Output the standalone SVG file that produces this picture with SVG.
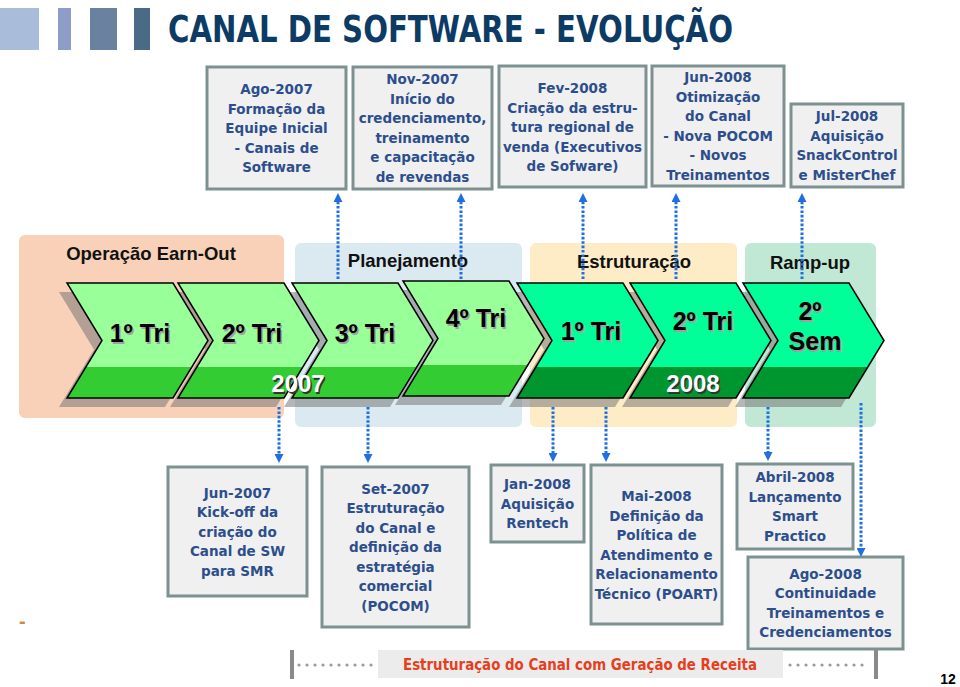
<svg xmlns="http://www.w3.org/2000/svg" xmlns:xlink="http://www.w3.org/1999/xlink" width="960" height="687" viewBox="0 0 960 687">
<style>
.box{fill:#f0f0f0;stroke:#7d9191;stroke-width:3}
.bt{font-family:"DejaVu Sans",Verdana,sans-serif;font-weight:bold;font-size:13.5px;fill:#2d4e8c;text-anchor:middle}
.ph{font-family:"Liberation Sans",Arial,sans-serif;font-weight:bold;font-size:18.5px;fill:#111;text-anchor:middle}
.cl{font-family:"Liberation Sans",Arial,sans-serif;font-weight:bold;font-size:25px;fill:#000;text-anchor:middle}
.cs{font-family:"Liberation Sans",Arial,sans-serif;font-weight:bold;font-size:25px;fill:#a0a0a0;text-anchor:middle}
.yr{font-family:"Liberation Sans",Arial,sans-serif;font-weight:bold;font-size:24px;fill:#fff;text-anchor:middle}
.ys{font-family:"Liberation Sans",Arial,sans-serif;font-weight:bold;font-size:24px;fill:#333;text-anchor:middle}
.sh{fill:#6e6e6e;opacity:.5}
.f7{fill:#99ff99}
.f8{fill:#00ff99}
.b7{fill:#33cc33}
.b8{fill:#00962f}
.ol{fill:none;stroke:#000;stroke-width:1.5;stroke-linejoin:miter}
.conn line{fill:none;stroke:#1f6fe0;stroke-width:3;stroke-dasharray:2.6 1.8;marker-end:url(#ah)}
.dot{fill:#9a9a9a}
</style>
<defs>
<marker id="ah" viewBox="0 0 10 10" refX="0" refY="5" markerWidth="9" markerHeight="9" markerUnits="userSpaceOnUse" orient="auto"><path d="M0,0 L10,5 L0,10 z" fill="#1f6fe0"/></marker>
<polygon id="cv" points="0,0 106,0 141,57.5 106,115 0,115 35,57.5"/>
<polygon id="bd" points="18.9,84 124.9,84 106,115 0,115"/>
</defs>

<g id="header">
<rect x="0" y="8" width="39" height="42" fill="#a9bcd9"/>
<rect x="58" y="8" width="13" height="42" fill="#8e9dc8"/>
<rect x="90" y="8" width="27" height="42" fill="#6a819f"/>
<rect x="134" y="8" width="16" height="42" fill="#4a6a85"/>
<text x="168" y="42" font-family="'DejaVu Sans',Verdana,sans-serif" font-weight="bold" font-size="37" fill="#0c3b66" textLength="565" lengthAdjust="spacingAndGlyphs">CANAL DE SOFTWARE - EVOLUÇÃO</text>
</g>

<g id="phases">
<g id="phase-earnout"><rect x="19" y="235" width="265" height="183" rx="6" fill="#f9d1b9"/><text class="ph" x="151" y="259.5">Operação Earn-Out</text></g>
<g id="phase-planejamento"><rect x="295" y="243" width="227" height="184" rx="6" fill="#daeaf0"/><text class="ph" x="408" y="266.5">Planejamento</text></g>
<g id="phase-estruturacao"><rect x="530" y="243" width="207" height="184" rx="6" fill="#fdecc5"/><text class="ph" x="634" y="267.5">Estruturação</text></g>
<g id="phase-rampup"><rect x="745" y="243" width="131" height="184" rx="6" fill="#c0e8d4"/><text class="ph" x="810" y="268.5">Ramp-up</text></g>
</g>

<g id="shadows">
<use xlink:href="#cv" class="sh" transform="translate(59,292)"/>
<use xlink:href="#cv" class="sh" transform="translate(170,292)"/>
<use xlink:href="#cv" class="sh" transform="translate(284,292)"/>
<use xlink:href="#cv" class="sh" transform="translate(395,290)"/>
<use xlink:href="#cv" class="sh" transform="translate(509,292)"/>
<use xlink:href="#cv" class="sh" transform="translate(622,292)"/>
<use xlink:href="#cv" class="sh" transform="translate(735,292)"/>
</g>

<g id="chev1"><g transform="translate(67,283)"><use xlink:href="#cv" class="f7"/><use xlink:href="#bd" class="b7"/><use xlink:href="#cv" class="ol"/></g>
<text class="cs" x="141.5" y="343.5">1º Tri</text><text class="cl" x="140" y="342">1º Tri</text></g>
<g id="chev2"><g transform="translate(178,283)"><use xlink:href="#cv" class="f7"/><use xlink:href="#bd" class="b7"/><use xlink:href="#cv" class="ol"/></g>
<text class="cs" x="253.5" y="343.5">2º Tri</text><text class="cl" x="252" y="342">2º Tri</text></g>
<g id="chev3"><g transform="translate(292,283)"><use xlink:href="#cv" class="f7"/><use xlink:href="#bd" class="b7"/><use xlink:href="#cv" class="ol"/></g>
<text class="cs" x="366.5" y="343.5">3º Tri</text><text class="cl" x="365" y="342">3º Tri</text></g>
<g id="chev4"><g transform="translate(403,281)"><use xlink:href="#cv" class="f7"/><use xlink:href="#bd" class="b7"/><use xlink:href="#cv" class="ol"/></g>
<text class="cs" x="477.5" y="328.5">4º Tri</text><text class="cl" x="476" y="327">4º Tri</text></g>
<g id="chev5"><g transform="translate(517,283)"><use xlink:href="#cv" class="f8"/><use xlink:href="#bd" class="b8"/><use xlink:href="#cv" class="ol"/></g>
<text class="cs" x="592.5" y="341.5">1º Tri</text><text class="cl" x="591" y="340">1º Tri</text></g>
<g id="chev6"><g transform="translate(630,283)"><use xlink:href="#cv" class="f8"/><use xlink:href="#bd" class="b8"/><use xlink:href="#cv" class="ol"/></g>
<text class="cs" x="704.5" y="331.5">2º Tri</text><text class="cl" x="703" y="330">2º Tri</text></g>
<g id="chev7"><g transform="translate(743,283)"><use xlink:href="#cv" class="f8"/><use xlink:href="#bd" class="b8"/><use xlink:href="#cv" class="ol"/></g>
<text class="cs" x="811.5" y="321.5">2º</text><text class="cl" x="810" y="320">2º</text>
<text class="cs" x="816.5" y="351.5">Sem</text><text class="cl" x="815" y="350">Sem</text></g>

<g id="years">
<text class="ys" x="299.5" y="393.5">2007</text><text class="yr" x="298" y="392">2007</text>
<text class="ys" x="694.5" y="393.5">2008</text><text class="yr" x="693" y="392">2008</text>
</g>

<g id="box-ago2007"><rect class="box" x="207" y="67" width="139" height="122"/>
<text class="bt"><tspan x="276.5" y="94">Ago-2007</tspan><tspan x="276.5" y="113.5">Formação da</tspan><tspan x="276.5" y="133">Equipe Inicial</tspan><tspan x="276.5" y="152.5">- Canais de</tspan><tspan x="276.5" y="172">Software</tspan></text></g>
<g id="box-nov2007"><rect class="box" x="353" y="67" width="139" height="122"/>
<text class="bt"><tspan x="422.5" y="84.3">Nov-2007</tspan><tspan x="422.5" y="103.8">Início do</tspan><tspan x="422.5" y="123.3">credenciamento,</tspan><tspan x="422.5" y="142.8">treinamento</tspan><tspan x="422.5" y="162.3">e capacitação</tspan><tspan x="422.5" y="181.8">de revendas</tspan></text></g>
<g id="box-fev2008"><rect class="box" x="499" y="66" width="147" height="121"/>
<text class="bt"><tspan x="572.5" y="93">Fev-2008</tspan><tspan x="572.5" y="112.5">Criação da estru-</tspan><tspan x="572.5" y="132">tura regional de</tspan><tspan x="572.5" y="151.5">venda (Executivos</tspan><tspan x="572.5" y="171">de Sofware)</tspan></text></g>
<g id="box-jun2008"><rect class="box" x="652" y="66" width="132" height="120"/>
<text class="bt"><tspan x="718" y="82">Jun-2008</tspan><tspan x="718" y="101.5">Otimização</tspan><tspan x="718" y="121">do Canal</tspan><tspan x="718" y="140.5">- Nova POCOM</tspan><tspan x="718" y="160">- Novos</tspan><tspan x="718" y="179.5">Treinamentos</tspan></text></g>
<g id="box-jul2008"><rect class="box" x="791" y="104" width="112" height="83"/>
<text class="bt"><tspan x="847" y="121">Jul-2008</tspan><tspan x="847" y="140.5">Aquisição</tspan><tspan x="847" y="160">SnackControl</tspan><tspan x="847" y="179.5">e MisterChef</tspan></text></g>

<g id="box-jun2007"><rect class="box" x="168" y="467" width="139" height="129"/>
<text class="bt"><tspan x="237.5" y="497.5">Jun-2007</tspan><tspan x="237.5" y="517">Kick-off da</tspan><tspan x="237.5" y="536.5">criação do</tspan><tspan x="237.5" y="556">Canal de SW</tspan><tspan x="237.5" y="575.5">para SMR</tspan></text></g>
<g id="box-set2007"><rect class="box" x="322" y="467" width="147" height="160"/>
<text class="bt"><tspan x="395.5" y="493.5">Set-2007</tspan><tspan x="395.5" y="513">Estruturação</tspan><tspan x="395.5" y="532.5">do Canal e</tspan><tspan x="395.5" y="552">definição da</tspan><tspan x="395.5" y="571.5">estratégia</tspan><tspan x="395.5" y="591">comercial</tspan><tspan x="395.5" y="610.5">(POCOM)</tspan></text></g>
<g id="box-jan2008"><rect class="box" x="491" y="465" width="93" height="77"/>
<text class="bt"><tspan x="537.5" y="489">Jan-2008</tspan><tspan x="537.5" y="508.5">Aquisição</tspan><tspan x="537.5" y="528">Rentech</tspan></text></g>
<g id="box-mai2008"><rect class="box" x="591" y="465" width="131" height="159"/>
<text class="bt"><tspan x="656.5" y="501">Mai-2008</tspan><tspan x="656.5" y="520.5">Definição da</tspan><tspan x="656.5" y="540">Política de</tspan><tspan x="656.5" y="559.5">Atendimento e</tspan><tspan x="656.5" y="579">Relacionamento</tspan><tspan x="656.5" y="598.5">Técnico (POART)</tspan></text></g>
<g id="box-abr2008"><rect class="box" x="737" y="464" width="116" height="85"/>
<text class="bt"><tspan x="795" y="482.3">Abril-2008</tspan><tspan x="795" y="501.8">Lançamento</tspan><tspan x="795" y="521.3">Smart</tspan><tspan x="795" y="540.8">Practico</tspan></text></g>
<g id="box-ago2008"><rect class="box" x="748" y="557" width="155" height="92"/>
<text class="bt"><tspan x="825.5" y="578.8">Ago-2008</tspan><tspan x="825.5" y="598.3">Continuidade</tspan><tspan x="825.5" y="617.8">Treinamentos e</tspan><tspan x="825.5" y="637.3">Credenciamentos</tspan></text></g>

<g id="connectors" class="conn">
<line x1="338" y1="279" x2="338" y2="202"/>
<line x1="461" y1="279" x2="461" y2="202"/>
<line x1="583" y1="279" x2="583" y2="202"/>
<line x1="676" y1="279" x2="676" y2="202"/>
<line x1="802" y1="279" x2="802" y2="202"/>
<line x1="279" y1="407" x2="279" y2="454"/>
<line x1="368" y1="407" x2="368" y2="454"/>
<line x1="553" y1="407" x2="553" y2="453"/>
<line x1="606" y1="407" x2="606" y2="453"/>
<line x1="768" y1="407" x2="768" y2="452"/>
<line x1="861" y1="403" x2="861" y2="548"/>
</g>

<g id="footer">
<rect x="290" y="650" width="4" height="29" fill="#8a8a8a"/>
<g class="dot">
<circle cx="299" cy="665" r="1.6"/><circle cx="307" cy="665" r="1.6"/><circle cx="315" cy="665" r="1.6"/><circle cx="323" cy="665" r="1.6"/><circle cx="331" cy="665" r="1.6"/><circle cx="339" cy="665" r="1.6"/><circle cx="347" cy="665" r="1.6"/><circle cx="355" cy="665" r="1.6"/><circle cx="363" cy="665" r="1.6"/><circle cx="371" cy="665" r="1.6"/>
<circle cx="790" cy="665" r="1.6"/><circle cx="798" cy="665" r="1.6"/><circle cx="806" cy="665" r="1.6"/><circle cx="814" cy="665" r="1.6"/><circle cx="822" cy="665" r="1.6"/><circle cx="830" cy="665" r="1.6"/><circle cx="838" cy="665" r="1.6"/><circle cx="846" cy="665" r="1.6"/><circle cx="854" cy="665" r="1.6"/><circle cx="862" cy="665" r="1.6"/>
</g>
<rect x="378" y="650" width="405" height="28" fill="#ececec"/>
<text x="403" y="670" font-family="'DejaVu Sans',Verdana,sans-serif" font-weight="bold" font-size="16" fill="#e5401e" textLength="354" lengthAdjust="spacingAndGlyphs">Estruturação do Canal com Geração de Receita</text>
<rect x="874" y="649" width="4" height="30" fill="#8a8a8a"/>
</g>

<text x="19" y="628" font-family="'Liberation Sans',Arial,sans-serif" font-weight="bold" font-size="20" fill="#d08a3a">-</text>
<text x="948" y="684" font-family="'Liberation Sans',Arial,sans-serif" font-weight="bold" font-size="14" fill="#000" text-anchor="middle">12</text>
</svg>
